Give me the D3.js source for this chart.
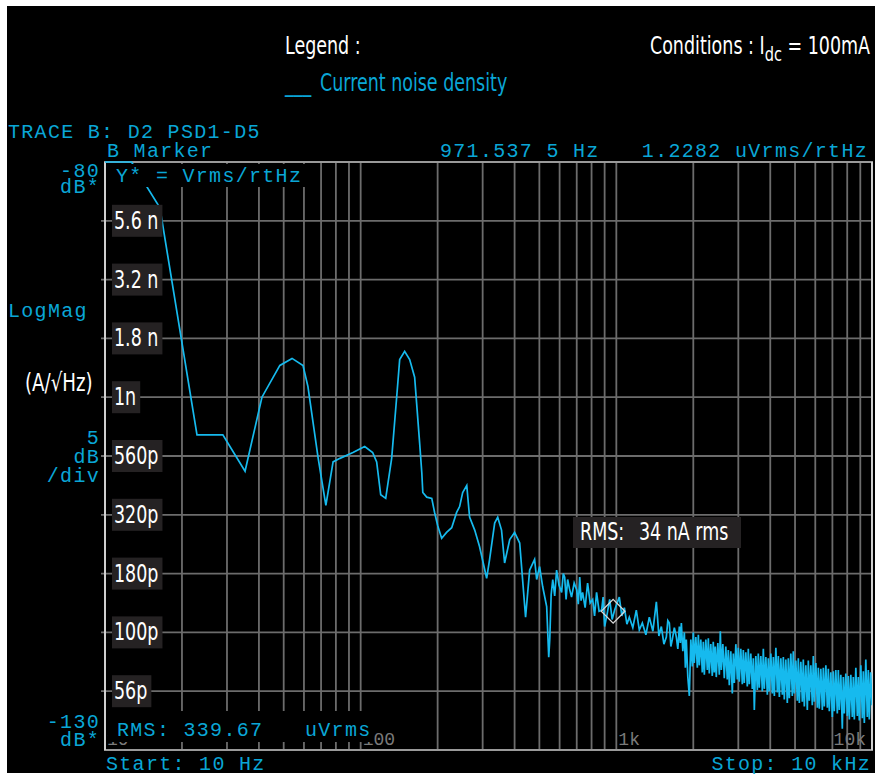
<!DOCTYPE html>
<html>
<head>
<meta charset="utf-8">
<title>Current noise density</title>
<style>
  body { margin: 0; background: #fff; }
</style>
</head>
<body>
<div id="chart"></div>
<script src="https://cdn.jsdelivr.net/npm/d3@7"></script>
<script>
(function(){
  "use strict";

  // trace: frequency (Hz) and level (dB re 1 Vrms/rtHz)
  var freqHz = [10, 12.7, 16.4, 22.9, 28.9, 35.3, 41.1, 48.3, 53.9, 59.5,
    62.2, 68.1, 70.6, 73.1, 78.0, 83.0, 93.3, 103.7, 111.4, 115.5,
    119.8, 125.3, 132.2, 138.3, 142.1, 148.6, 155.5, 162.6, 170.1, 173.4,
    175.0, 181.3, 189.7, 194.6, 200, 207.4, 216.8, 227.0, 237.3, 243.8,
    250.6, 260.0, 266.7, 279.3, 291.7, 311.0, 319.4, 334.3, 343.6, 355.6,
    365.6, 382.8, 400.0, 418.8, 441.6, 458.1,
    479, 488, 501, 515, 534, 544, 549, 556, 564, 574,
    584, 597, 611, 620, 628, 636, 645, 656, 668, 684,
    700, 710, 719, 728, 738, 755, 772, 790, 808, 822,
    837, 856, 876, 888, 900, 921, 942, 963, 985,
    1027, 1051, 1075, 1100, 1124, 1160, 1197, 1230, 1264, 1305,
    1346, 1390, 1434, 1467, 1500, 1535, 1569, 1590, 1612, 1634,
    1656, 1686, 1717, 1740, 1764, 1780, 1796, 1820,
    1845, 1862, 1878, 1904, 1930, 1956, 1983, 2000, 2018, 2046,
    2074, 2093, 2112, 2140, 2169, 2189, 2209, 2239, 2269, 2290,
    2310, 2341, 2373, 2394, 2416, 2438, 2460, 2494, 2528, 2551,
    2574, 2609, 2644, 2680, 2716, 2741, 2766, 2804, 2842, 2868,
    2894, 2934, 2973, 3000, 3027, 3068, 3110, 3138, 3166, 3209,
    3253, 3282, 3312, 3357, 3403, 3434, 3465, 3512, 3560, 3592,
    3625, 3674, 3724, 3758, 3792, 3844, 3896, 3931, 3967, 4021,
    4076, 4113, 4150, 4207, 4264, 4302, 4341, 4400, 4460, 4500,
    4539, 4601, 4664, 4706, 4749, 4814, 4879, 4923, 4968, 5036,
    5104, 5150, 5197, 5268, 5339, 5387, 5436, 5510, 5585, 5635,
    5686, 5764, 5842, 5895, 5949, 6030, 6112, 6167, 6222, 6307,
    6393, 6451, 6510, 6599, 6688, 6748, 6808, 6901, 6995, 7058,
    7122, 7219, 7317, 7383, 7450, 7552, 7654, 7724, 7794, 7900,
    8007, 8080, 8153, 8264, 8375, 8451, 8528, 8645, 8762, 8841,
    8920, 9043, 9166, 9248, 9331, 9458, 9585, 9672, 9759, 9880,
    10000];
  var levelDb = [-80, -80, -83.9, -103.2, -103.2, -106.3, -100.0, -97.3, -96.7, -97.3,
    -99.1, -105.1, -107.2, -109.2, -105.5, -105.2, -104.7, -104.2, -104.7, -105.5,
    -108.3, -108.6, -105.2, -100.0, -96.8, -96.1, -96.8, -98.3, -103.9, -106.4,
    -108.1, -108.5, -108.6, -109.8, -110.9, -112.0, -111.5, -111.1, -109.8, -109.3,
    -108.1, -107.5, -110.2, -111.3, -112.7, -115.4, -113.8, -110.7, -110.2, -111.3,
    -114.1, -112.1, -111.5, -112.4, -118.7, -114.7,
    -113.8, -115.5, -114.4, -116.1, -117.8, -122.1, -120.6, -116.8, -115.5, -116.9,
    -114.7, -116.0, -116.6, -115.0, -115.3, -117.2, -115.5, -116.3, -117.0, -115.8,
    -116.4, -117.6, -115.3, -117.3, -116.6, -117.9, -115.8, -117.5, -117.2, -118.6,
    -116.6, -118.2, -118.1, -117.0, -119.5, -118.4, -117.2, -118.9, -118.1,
    -117.0, -118.6, -117.9, -119.3, -118.7, -119.6, -118.1, -119.8, -119.2, -120.2,
    -118.7, -119.9, -117.4, -120.3, -119.5, -121.0, -120.4, -119.0, -119.2, -121.2,
    -120.6, -119.6, -120.4, -121.4, -119.5, -120.9, -119.2, -121.6,
    -120.0, -123.0, -120.6, -123.8, -125.4, -120.6, -122.9, -120.0, -122.6, -120.4,
    -123.0, -120.2, -122.8, -120.6, -123.4, -120.8, -123.6, -120.6, -123.2, -120.5,
    -123.5, -121.0, -123.7, -120.8, -123.4, -121.2, -123.8, -120.9, -123.6, -119.9,
    -123.2, -121.0, -123.9, -121.2, -124.0, -121.5, -124.5, -121.6, -125.2, -121.8,
    -124.3, -121.0, -124.0, -121.3, -124.2, -121.4, -124.4, -121.5, -124.3, -121.7,
    -124.6, -121.4, -124.4, -121.8, -124.8, -122.2, -126.6, -122.0, -124.9, -121.8,
    -124.7, -122.0, -125.0, -121.4, -124.8, -122.1, -125.3, -122.2, -125.0, -121.8,
    -125.2, -122.1, -125.4, -121.3, -125.1, -122.0, -125.5, -122.2, -125.3, -122.1,
    -125.7, -122.3, -126.0, -122.2, -125.6, -121.8, -125.4, -121.6, -125.2, -122.4,
    -125.8, -122.2, -126.0, -122.5, -125.9, -122.3, -126.3, -122.8, -126.6, -122.4,
    -125.8, -122.8, -126.2, -122.0, -125.9, -122.6, -126.4, -123.0, -126.5, -123.1,
    -126.6, -123.0, -126.3, -122.8, -126.4, -123.1, -126.7, -123.4, -127.2, -123.3,
    -126.7, -123.2, -126.9, -123.2, -126.6, -123.6, -128.2, -123.8, -126.9, -123.5,
    -127.1, -123.7, -127.4, -123.6, -127.2, -123.8, -127.4, -123.0, -127.1, -123.8,
    -127.5, -122.8, -127.3, -123.3, -127.7, -122.3, -127.2, -123.2, -127.4, -123.4,
    -126.2];

  // current density labels on the 5 dB grid lines
  var yTickDb = [-85, -90, -95, -100, -105, -110, -115, -120, -125];
  var yTickLabels = ["5.6 n", "3.2 n", "1.8 n", "1n", "560p", "320p", "180p", "100p", "56p"];

  var xTickHz = [10, 100, 1000, 10000];
  var xTickLabels = ["10", "100", "1k", "10k"];

  // B marker
  var markerHz = [971.5375];
  var markerDb = [-118.2];

  var width = 875, height = 775;
  var left = 105, right = 872, top = 162, bottom = 750;
  var cyan = "#0aa6d6";
  var trace = "#16baee";
  var gridCol = "#6c6c6c";
  var mono = "'Liberation Mono','DejaVu Sans Mono',monospace";
  var cond = "'Liberation Sans Narrow','Arial Narrow','DejaVu Sans Condensed',sans-serif";
  var squeeze = 0.81; // the condensed face on hand is wider than the original one

  var x = d3.scaleLog().domain([10, 10000]).range([left, right]);
  var y = d3.scaleLinear().domain([-80, -130]).range([top, bottom]);

  var svg = d3.select("#chart").append("svg")
    .attr("width", width)
    .attr("height", height);

  svg.append("rect")
    .attr("x", 7).attr("y", 6)
    .attr("width", width - 7).attr("height", height - 8)
    .attr("fill", "#000");

  function monoText(tx, ty, str, anchor, size, col) {
    return svg.append("text")
      .attr("x", tx).attr("y", ty)
      .attr("text-anchor", anchor || "start")
      .attr("font-family", mono)
      .attr("font-size", size || 20)
      .attr("letter-spacing", 1.3)
      .attr("fill", col || cyan)
      .text(str);
  }

  function condText(tx, ty, str, anchor, size, col) {
    return svg.append("text")
      .attr("transform", "translate(" + tx + "," + ty + ") scale(" + squeeze + ",1)")
      .attr("text-anchor", anchor || "start")
      .attr("font-family", cond)
      .attr("font-size", size || 24)
      .attr("fill", col || "#fff")
      .text(str);
  }

  // grid
  var grid = svg.append("g")
    .attr("stroke", gridCol)
    .attr("stroke-width", 1.8);

  grid.selectAll("line.v")
    .data(x.ticks().filter(function(d){ return d > 10 && d < 10000; }))
    .enter().append("line")
      .attr("class", "v")
      .attr("x1", function(d){ return x(d); })
      .attr("x2", function(d){ return x(d); })
      .attr("y1", top)
      .attr("y2", bottom);

  grid.selectAll("line.h")
    .data(y.ticks(10).filter(function(d){ return d < -80 && d > -130; }))
    .enter().append("line")
      .attr("class", "h")
      .attr("x1", left - 4)
      .attr("x2", right)
      .attr("y1", function(d){ return y(d); })
      .attr("y2", function(d){ return y(d); });

  // x tick labels (grey, partly hidden under the RMS readout)
  xTickHz.forEach(function(f, i){
    var last = i === xTickHz.length - 1;
    monoText(last ? x(f) - 6 : x(f) + 2, 745, xTickLabels[i], last ? "end" : "start", 18, "#7a7a7a")
      .attr("letter-spacing", 0);
  });

  // frame
  svg.append("rect")
    .attr("x", left).attr("y", top)
    .attr("width", right - left).attr("height", bottom - top)
    .attr("fill", "none")
    .attr("stroke", "#9a9a9a")
    .attr("stroke-width", 2);
  svg.append("line")
    .attr("x1", left).attr("x2", left)
    .attr("y1", top).attr("y2", bottom)
    .attr("stroke", "#cfcfcf").attr("stroke-width", 2);
  svg.append("line")
    .attr("x1", right).attr("x2", right)
    .attr("y1", top).attr("y2", bottom)
    .attr("stroke", "#cfcfcf").attr("stroke-width", 2);

  // trace
  svg.append("clipPath").attr("id", "plotclip")
    .append("rect")
      .attr("x", left).attr("y", top - 1)
      .attr("width", right - left).attr("height", bottom - top + 1);

  var line = d3.line()
    .x(function(d){ return x(d[0]); })
    .y(function(d){ return y(d[1]); });

  svg.append("path")
    .datum(d3.zip(freqHz, levelDb))
    .attr("clip-path", "url(#plotclip)")
    .attr("d", line)
    .attr("fill", "none")
    .attr("stroke", trace)
    .attr("stroke-width", 1.7)
    .attr("stroke-linejoin", "miter");

  // readouts inside the plot, on black cells
  svg.append("rect").attr("x", left + 3).attr("y", top + 2)
    .attr("width", 197).attr("height", 23).attr("fill", "#000");
  monoText(116, 182, "Y* = Vrms/rtHz");

  svg.append("rect").attr("x", left + 3).attr("y", 711)
    .attr("width", 265).attr("height", 31).attr("fill", "#000");
  monoText(117, 736, "RMS: 339.67");
  monoText(305, 736, "uVrms");

  // marker
  svg.append("path")
    .attr("transform", "translate(" + x(markerHz[0]) + "," + y(markerDb[0]) + ") rotate(45)")
    .attr("d", d3.symbol().type(d3.symbolSquare).size(280)())
    .attr("fill", "none")
    .attr("stroke", "#d8d8d8")
    .attr("stroke-width", 1.3);

  // current density tick labels
  yTickDb.forEach(function(db, i){
    var gy = y(db);
    var box = svg.append("rect")
      .attr("x", 112).attr("y", gy - 16)
      .attr("height", 32)
      .attr("fill", "#252223");
    var t = condText(114, gy + 8, yTickLabels[i]);
    box.attr("width", t.node().getComputedTextLength() * squeeze + 6);
  });

  // RMS of the current
  svg.append("rect")
    .attr("x", 573).attr("y", 517)
    .attr("width", 168).attr("height", 31)
    .attr("fill", "#252223");
  condText(580, 540, "RMS:");
  condText(639, 540, "34 nA rms");

  // analyzer annotations
  monoText(8, 138, "TRACE B: D2 PSD1-D5");
  monoText(107, 157, "B Marker");
  monoText(440, 157, "971.537 5 Hz");
  monoText(868, 157, "1.2282 uVrms/rtHz", "end");

  monoText(100, 177, "-80", "end");
  monoText(100, 193, "dB*", "end");
  monoText(8, 317, "LogMag");
  monoText(100, 444, "5", "end");
  monoText(100, 463, "dB", "end");
  monoText(100, 482, "/div", "end");
  monoText(100, 728, "-130", "end");
  monoText(100, 746, "dB*", "end");

  monoText(106, 770, "Start: 10 Hz");
  monoText(871, 770, "Stop: 10 kHz", "end");

  // unit label
  condText(25, 391, "(A/\u221AHz)", "start", 25);

  // legend and conditions
  condText(285, 54, "Legend :");
  condText(285, 91, "___", "start", 24, cyan);
  condText(320, 91, "Current noise density", "start", 24, cyan);

  var cnd = condText(870, 54, "Conditions : I", "end");
  cnd.append("tspan").attr("dy", 7).attr("font-size", 20).text("dc");
  cnd.append("tspan").attr("dy", -7).text(" = 100mA");

})();
</script>
</body>
</html>
